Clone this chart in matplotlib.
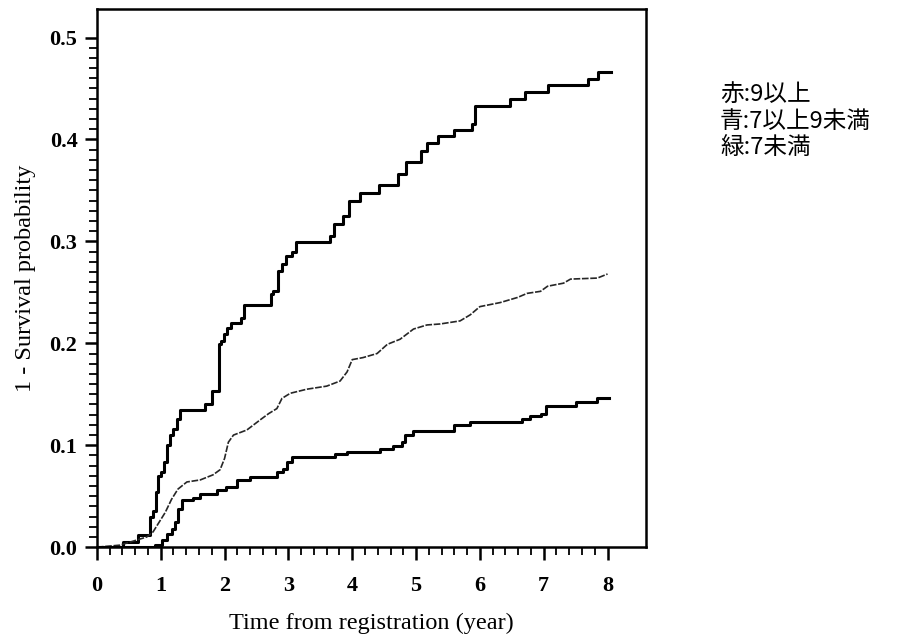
import matplotlib
matplotlib.use('Agg')
import matplotlib.pyplot as plt
import numpy as np
from matplotlib.ticker import FixedLocator

# cumulative incidence curves (year, 1 - survival)
t_high = [0, 0.41, 0.65, 0.83, 0.88, 0.93, 0.96, 1.0, 1.05, 1.1,
          1.15, 1.2, 1.25, 1.3, 1.69, 1.8, 1.91, 1.95, 1.99, 2.04,
          2.1, 2.25, 2.3, 2.72, 2.76, 2.83, 2.9, 2.97, 3.05, 3.12,
          3.65, 3.72, 3.86, 3.95, 4.12, 4.42, 4.71, 4.85, 5.07, 5.17,
          5.35, 5.6, 5.87, 5.92, 6.47, 6.71, 7.07, 7.7, 7.85, 8.05]
p_high = [0, 0.005, 0.012, 0.03, 0.036, 0.054, 0.07, 0.074, 0.084, 0.1,
          0.11, 0.116, 0.126, 0.135, 0.14, 0.153, 0.199, 0.202, 0.209, 0.215,
          0.22, 0.225, 0.238, 0.248, 0.251, 0.271, 0.278, 0.286, 0.29, 0.299,
          0.305, 0.317, 0.325, 0.34, 0.347, 0.355, 0.366, 0.378, 0.389, 0.397,
          0.403, 0.409, 0.415, 0.433, 0.44, 0.447, 0.453, 0.459, 0.466, 0.466]

t_mid = [0, 0.36, 0.52, 0.78, 0.88, 0.96, 1.07, 1.17, 1.27, 1.41,
         1.62, 1.82, 1.93, 2.0, 2.06, 2.14, 2.35, 2.56, 2.69, 2.82,
         2.9, 3.03, 3.29, 3.6, 3.81, 3.92, 4.0, 4.17, 4.39, 4.55,
         4.75, 4.96, 5.17, 5.38, 5.69, 5.85, 6.0, 6.32, 6.59, 6.74,
         6.95, 7.06, 7.31, 7.42, 7.84, 8.0]
p_mid = [0, 0.002, 0.005, 0.01, 0.015, 0.023, 0.034, 0.047, 0.057, 0.064,
         0.066, 0.071, 0.076, 0.087, 0.103, 0.11, 0.115, 0.125, 0.131, 0.136,
         0.146, 0.151, 0.155, 0.158, 0.163, 0.172, 0.184, 0.186, 0.19, 0.199,
         0.204, 0.214, 0.218, 0.219, 0.222, 0.228, 0.236, 0.24, 0.245, 0.249,
         0.251, 0.256, 0.259, 0.263, 0.264, 0.268]

t_low = [0, 0.91, 1.02, 1.1, 1.17, 1.22, 1.27, 1.33, 1.51, 1.62,
         1.88, 2.03, 2.19, 2.4, 2.82, 2.92, 2.98, 3.05, 3.73, 3.92,
         4.44, 4.64, 4.78, 4.83, 4.96, 5.59, 5.85, 6.66, 6.79, 6.95,
         7.03, 7.5, 7.84, 8.02]
p_low = [0, 0.002, 0.007, 0.013, 0.018, 0.025, 0.037, 0.046, 0.048, 0.052,
         0.056, 0.059, 0.066, 0.069, 0.074, 0.077, 0.084, 0.088, 0.091, 0.093,
         0.096, 0.099, 0.103, 0.11, 0.114, 0.12, 0.123, 0.126, 0.129, 0.131,
         0.139, 0.142, 0.146, 0.146]

x_ticks = [0, 1, 2, 3, 4, 5, 6, 7, 8]
y_ticks = [0, 0.1, 0.2, 0.3, 0.4, 0.5]
y_ticklabels = ['0.0', '0.1', '0.2', '0.3', '0.4', '0.5']
legend_lines = ['赤:9以上', '青:7以上9未満', '緑:7未満']

serif = 'Liberation Serif'
cjk = ['Noto Sans CJK JP', 'DejaVu Sans']

fig = plt.figure(figsize=(8.97, 6.4), dpi=100)
ax = fig.add_axes([0.108, 0.145, 0.612, 0.841])

ax.step(t_high, p_high, where='post', color='black', lw=2.2)
ax.plot(t_mid, p_mid, color='0.15', lw=1.2, ls=(0, (4, 1)))
ax.step(t_low, p_low, where='post', color='black', lw=2.2)

ax.set_xlim(0, 8.6)
ax.set_ylim(0, 0.528)
ax.set_xticks(x_ticks)
ax.xaxis.set_minor_locator(FixedLocator(np.arange(0, 8.01, 0.2)))
ax.set_yticks(y_ticks)
ax.set_yticklabels(y_ticklabels)
ax.yaxis.set_minor_locator(FixedLocator(np.arange(0, 0.501, 0.01)))

for s in ax.spines.values():
    s.set_linewidth(1.8)
ax.tick_params(which='major', direction='out', length=9, width=1.8,
               labelsize=16, top=False, right=False)
ax.tick_params(which='minor', direction='out', length=6, width=1.3,
               top=False, right=False)
ax.tick_params(axis='x', which='major', pad=12)
ax.tick_params(axis='y', which='major', pad=5)
for lab in ax.get_xticklabels() + ax.get_yticklabels():
    lab.set_fontfamily(serif)
    lab.set_fontweight('bold')

ax.set_xlabel('Time from registration (year)', fontsize=17.5, family=serif,
              labelpad=12)
ax.set_ylabel('1 - Survival probability', fontsize=17.5, family=serif,
              labelpad=10)

for i, txt in enumerate(legend_lines):
    fig.text(720 / 897, 1 - (95 + 26 * i) / 640, txt, fontsize=17,
             family=cjk, va='center', ha='left')

fig.savefig('out.png', dpi=100)
